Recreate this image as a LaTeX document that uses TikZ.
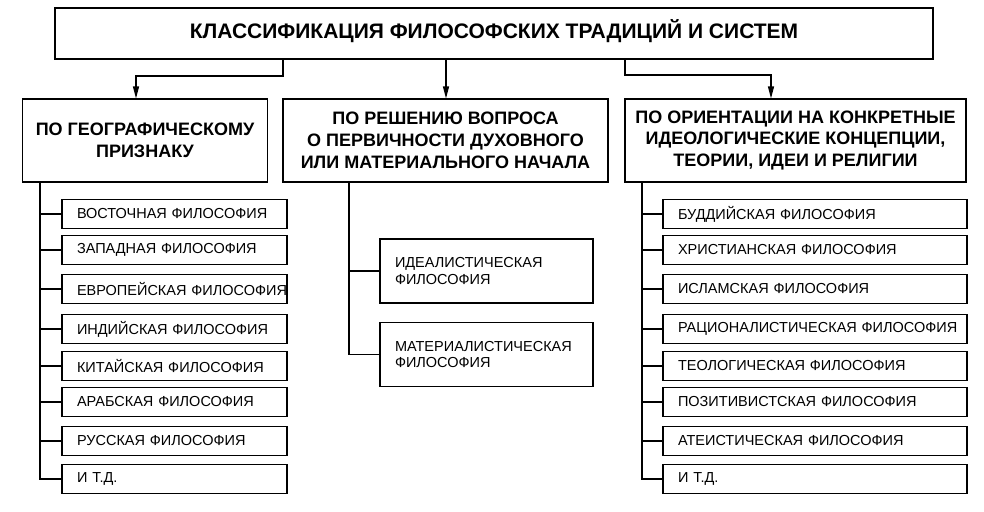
\documentclass[tikz,border=0pt]{standalone}
\usepackage{fontspec}
\setmainfont{Liberation Sans}
\usetikzlibrary{arrows.meta}

\begin{document}
\begin{tikzpicture}[x=1pt,y=-1pt,line width=1.1pt,
		every node/.style={draw,line width=1.1pt,inner sep=0pt},
		head/.style={align=center,minimum height=83pt,font=\bfseries\fontsize{18}{21.7}\selectfont},
		item/.style={align=left,inner xsep=15pt,minimum height=29pt,font=\fontsize{14.5}{16.5}\selectfont},
		>={Triangle[length=12pt,width=6pt]}]
		
		\useasboundingbox (0,0) rectangle (984,511);
		
		% Title of the whole classification
		\node[anchor=base,text height=30pt,text depth=21pt,minimum width=878pt,
			font=\bfseries\fontsize{21}{24}\selectfont] (title) at (494,38)
			{КЛАССИФИКАЦИЯ ФИЛОСОФСКИХ ТРАДИЦИЙ И СИСТЕМ};
		
		% Three criteria of the classification
		\node[head,minimum width=245pt] (hL) at (145,140.5) {ПО ГЕОГРАФИЧЕСКОМУ\\ПРИЗНАКУ};
		\node[head,minimum width=325pt] (hM) at (445.5,140.5) {ПО РЕШЕНИЮ ВОПРОСА\\О ПЕРВИЧНОСТИ ДУХОВНОГО\\ИЛИ МАТЕРИАЛЬНОГО НАЧАЛА};
		\node[head,minimum width=341pt] (hR) at (795.5,140.5) {ПО ОРИЕНТАЦИИ НА КОНКРЕТНЫЕ\\ИДЕОЛОГИЧЕСКИЕ КОНЦЕПЦИИ,\\ТЕОРИИ, ИДЕИ И РЕЛИГИИ};
		
		% Arrows from the title down to the criteria
		\coordinate (kL) at (283,76);
		\coordinate (aL) at (136,76);
		\coordinate (aM) at (446,76);
		\coordinate (kR) at (625,75);
		\coordinate (aR) at (771,75);
		\draw[->] (kL |- title.south) -- (kL) -- (aL) -- (aL |- hL.north);
		\draw[->] (aM |- title.south) -- (aM |- hM.north);
		\draw[->] (kR |- title.south) -- (kR) -- (aR) -- (aR |- hR.north);
		
		% Geographic traditions
		\foreach \i/\y/\lbl in {1/214/ВОСТОЧНАЯ ФИЛОСОФИЯ,2/250/ЗАПАДНАЯ ФИЛОСОФИЯ,
			3/289/ЕВРОПЕЙСКАЯ ФИЛОСОФИЯ,4/329/ИНДИЙСКАЯ ФИЛОСОФИЯ,5/366/КИТАЙСКАЯ ФИЛОСОФИЯ,
			6/402/АРАБСКАЯ ФИЛОСОФИЯ,7/441/РУССКАЯ ФИЛОСОФИЯ,8/479/И Т.Д.}{
			\node[item,text width=195pt] (g\i) at (174.5,\y) {\mbox{\lbl}};
		}
		
		% Idealism and materialism
		\node[item,text width=183pt,minimum height=64pt] (m1) at (486.5,271) {ИДЕАЛИСТИЧЕСКАЯ\\ФИЛОСОФИЯ};
		\node[item,text width=183pt,minimum height=64pt] (m2) at (486.5,354.5) {МАТЕРИАЛИСТИЧЕСКАЯ\\ФИЛОСОФИЯ};
		
		% Traditions by ideological orientation
		\foreach \i/\y/\lbl in {1/214/БУДДИЙСКАЯ ФИЛОСОФИЯ,2/250/ХРИСТИАНСКАЯ ФИЛОСОФИЯ,
			3/289/ИСЛАМСКАЯ ФИЛОСОФИЯ,4/329/РАЦИОНАЛИСТИЧЕСКАЯ ФИЛОСОФИЯ,5/366/ТЕОЛОГИЧЕСКАЯ ФИЛОСОФИЯ,
			6/402/ПОЗИТИВИСТСКАЯ ФИЛОСОФИЯ,7/441/АТЕИСТИЧЕСКАЯ ФИЛОСОФИЯ,8/479/И Т.Д.}{
			\node[item,text width=274pt] (r\i) at (815,\y) {\mbox{\lbl}};
		}
		
		% Trunks with their branches
		\coordinate (tL) at (40,182);
		\coordinate (tM) at (349,182);
		\coordinate (tR) at (642,182);
		\draw (tL) |- (g8.west);
		\draw (tR) |- (r8.west);
		\foreach \i in {1,...,7}{
			\draw (tL |- g\i.west) -- (g\i.west);
			\draw (tR |- r\i.west) -- (r\i.west);
		}
		\draw (tM) |- (m2.west);
		\draw (tM |- m1.west) -- (m1.west);
		
	\end{tikzpicture}
\end{document}
